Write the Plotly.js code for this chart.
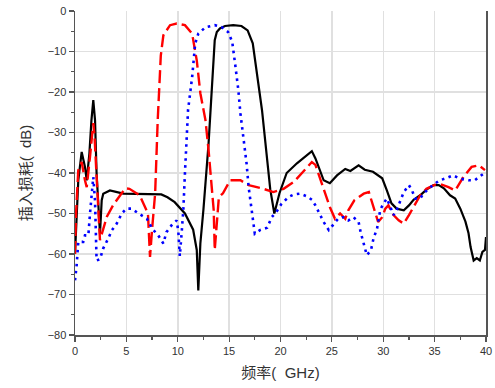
<!DOCTYPE html>
<html>
<head>
<meta charset="utf-8">
<script src="https://cdn.plot.ly/plotly-3.0.1.min.js"></script>
<style>html,body{margin:0;padding:0;background:#fff;}#chart{width:495px;height:388px;}</style>
</head>
<body>
<div id="chart"></div>
<script>
// Black solid curve
var blackX = [0, 0.16, 0.32, 0.65, 0.97, 1.14, 1.4, 1.6, 1.78, 1.95, 2.1, 2.43, 2.6, 2.75, 3.4, 4.7, 6, 7.5, 8.4, 9.0, 9.7, 10.7, 11.5, 11.85, 12.0, 12.2, 12.5, 13.0, 13.3, 13.5, 13.6, 13.8, 14.1, 14.6, 15.4, 16.2, 16.8, 17.3, 18.2, 19.0, 19.4, 19.9, 20.6, 21.6, 22.6, 23.05, 23.4, 23.9, 24.2, 24.8, 25.5, 26.3, 26.8, 27.6, 28.2, 29.0, 29.9, 30.35, 30.8, 31.3, 32.0, 32.5, 32.95, 33.6, 34.2, 34.9, 35.4, 35.9, 36.5, 37.0, 37.5, 38.0, 38.3, 38.5, 38.8, 39.1, 39.4, 39.65, 39.9, 40];
var blackY = [-60, -50, -41.8, -34.8, -38.5, -41.8, -35.2, -27, -22, -27, -40, -55, -46.7, -45.1, -44.3, -45.1, -45.2, -45.2, -45.3, -46, -47.2, -50, -54, -59, -69, -57.4, -49, -32.7, -20.4, -11.4, -7.2, -5.2, -4.3, -3.7, -3.5, -3.7, -4.8, -8, -24.5, -44, -50, -45, -40, -37.6, -35.6, -34.6, -36.4, -40.1, -41.8, -42.5, -40.6, -39, -39.5, -38.1, -39.2, -39.7, -41.3, -44.3, -47.5, -48.8, -49.2, -48, -46.6, -45.5, -44.1, -43, -43, -43.8, -45.5, -46.3, -48.8, -52, -54.9, -58.3, -61.6, -61, -61.6, -59.5, -59, -55.8];

// Red dashed curve
var redX = [0, 0.1, 0.32, 0.65, 0.97, 1.14, 1.46, 1.78, 1.9, 2.1, 2.43, 3.1, 3.7, 4.4, 4.9, 5.3, 6.3, 7.1, 7.3, 7.5, 7.8, 8.05, 8.2, 8.35, 8.6, 9.25, 9.9, 10.7, 11.4, 11.85, 12.2, 12.7, 13.0, 13.3, 13.5, 13.6, 14.0, 14.4, 15.1, 16.1, 16.9, 18.2, 19.3, 20.3, 21.3, 22.2, 23.05, 23.4, 23.9, 24.4, 24.8, 25.3, 25.8, 26.3, 26.6, 27.2, 28.1, 28.6, 28.9, 29.2, 29.5, 29.9, 30.2, 30.5, 31.0, 31.5, 32.0, 32.5, 33.0, 33.6, 34.2, 35.05, 35.7, 36.35, 37.0, 37.8, 38.6, 39.3, 39.9];
var redY = [-60, -50, -39.3, -37.3, -41.8, -43.5, -36, -27.7, -31, -41.8, -56.6, -50.8, -48, -45.5, -43.8, -43.9, -45.5, -50, -60.7, -54, -45, -27, -18, -11, -6, -3.5, -3.1, -3.5, -5.6, -12.2, -20.3, -27, -34.4, -42.6, -49.2, -59, -46, -45, -41.8, -41.8, -43, -43.8, -44.7, -43.9, -42.2, -39.7, -37.3, -38, -41.8, -45.5, -48.4, -51.3, -50, -51.3, -49.2, -46.7, -45.1, -44.7, -47.2, -49.6, -52.1, -50.9, -48.8, -48, -50.4, -51.7, -52.5, -50.4, -48, -45.5, -43.9, -42.9, -42.9, -43.5, -44.3, -41, -38.5, -38.1, -39.3];

// Blue dotted curve
var blueX = [0, 0.16, 0.32, 0.8, 0.97, 1.3, 1.46, 1.6, 1.78, 1.95, 2.1, 2.43, 2.75, 3.25, 3.6, 4.06, 4.55, 5.0, 5.5, 6.2, 7.0, 7.5, 8.1, 8.6, 8.9, 9.4, 9.9, 10.06, 10.2, 10.4, 10.55, 10.7, 10.9, 11.0, 11.4, 11.7, 12.0, 12.7, 13.6, 14.3, 14.9, 15.3, 15.6, 15.9, 16.1, 16.4, 16.7, 16.9, 17.2, 17.5, 18.0, 18.7, 19.15, 19.6, 20.1, 20.8, 21.3, 21.9, 22.6, 23.05, 23.4, 23.7, 24.2, 24.7, 25.1, 25.6, 26.1, 26.6, 27.1, 27.6, 27.8, 28.1, 28.4, 28.8, 29.05, 29.4, 29.7, 30.0, 30.35, 30.7, 31.0, 31.3, 31.65, 32.0, 32.5, 32.8, 33.1, 33.6, 33.9, 34.4, 35.05, 35.5, 36.0, 36.8, 37.5, 38.3, 38.9, 39.6, 40];
var blueY = [-66.5, -62.8, -57, -57, -55.4, -55.4, -50, -45, -41, -47, -61.6, -61.3, -58.6, -56.1, -54.1, -52.5, -50, -48.8, -48.8, -50, -51.3, -53.7, -55.4, -57.4, -54.6, -52.9, -51.7, -54.6, -60.5, -54.1, -48.8, -40.1, -31, -24.5, -16.3, -8, -5.6, -4, -3.5, -4, -5.2, -7.6, -13.4, -19.6, -25.3, -31.5, -37.7, -43.5, -49.2, -55, -54.1, -53.5, -50.9, -49.6, -47.6, -45.9, -45.3, -45.1, -45.8, -46.6, -48, -49.6, -52.1, -54.1, -52.9, -51.3, -50.9, -51.7, -50.9, -52.1, -54.6, -57.4, -60.3, -59.1, -56.2, -53.7, -49.2, -47.6, -46.3, -48.4, -50.4, -49.2, -46.7, -44.7, -43, -44.3, -46.3, -46.3, -45.1, -43.9, -42.6, -41.8, -41.4, -40.6, -41.4, -41.8, -41.8, -40.6, -39.7];

var xTitle = '频率(\u00a0\u00a0GHz)';
var yTitle = '插入损耗(\u00a0\u00a0dB)';

var traces = [
  {x: blackX, y: blackY, mode: 'lines', line: {color: '#000000', width: 2.2}, hoverinfo: 'skip'},
  {x: redX, y: redY, mode: 'lines', line: {color: '#ff0000', width: 2.4, dash: '13px,5px'}, hoverinfo: 'skip'},
  {x: blueX, y: blueY, mode: 'lines', line: {color: '#0000ff', width: 2.6, dash: '2.6px,4.4px'}, hoverinfo: 'skip'}
];

var tickFont = {family: 'Liberation Sans, Arial, sans-serif', size: 11, color: '#333333'};
var titleFont = {family: 'Liberation Sans, Noto Sans CJK SC, sans-serif', size: 15, color: '#333333'};

var layout = {
  width: 495, height: 388,
  margin: {l: 75, r: 9, t: 11, b: 53},
  paper_bgcolor: '#ffffff', plot_bgcolor: '#ffffff',
  showlegend: false,
  xaxis: {
    range: [0, 40], dtick: 5, tick0: 0,
    showgrid: true, gridcolor: '#e0e0e0', gridwidth: 1.5,
    showline: true, linecolor: '#555555', linewidth: 1.5, mirror: false,
    ticks: 'outside', ticklen: 5, tickcolor: '#555555', tickwidth: 1.2,
    minor: {dtick: 2.5, ticks: 'outside', ticklen: 3, tickcolor: '#555555', showgrid: false},
    tickfont: tickFont, zeroline: false,
    title: {text: xTitle, font: titleFont, standoff: 12}
  },
  yaxis: {
    range: [-80, 0], dtick: 10, tick0: 0,
    showgrid: true, gridcolor: '#e0e0e0', gridwidth: 1.5,
    showline: true, linecolor: '#555555', linewidth: 1.5, mirror: true,
    ticks: 'outside', ticklen: 5, tickcolor: '#555555', tickwidth: 1.2,
    minor: {dtick: 5, ticks: 'outside', ticklen: 3, tickcolor: '#555555', showgrid: false},
    tickfont: tickFont, zeroline: false,
    title: {text: yTitle, font: titleFont, standoff: 12}
  }
};

Plotly.newPlot('chart', traces, layout, {staticPlot: true, displayModeBar: false});
</script>
</body>
</html>
